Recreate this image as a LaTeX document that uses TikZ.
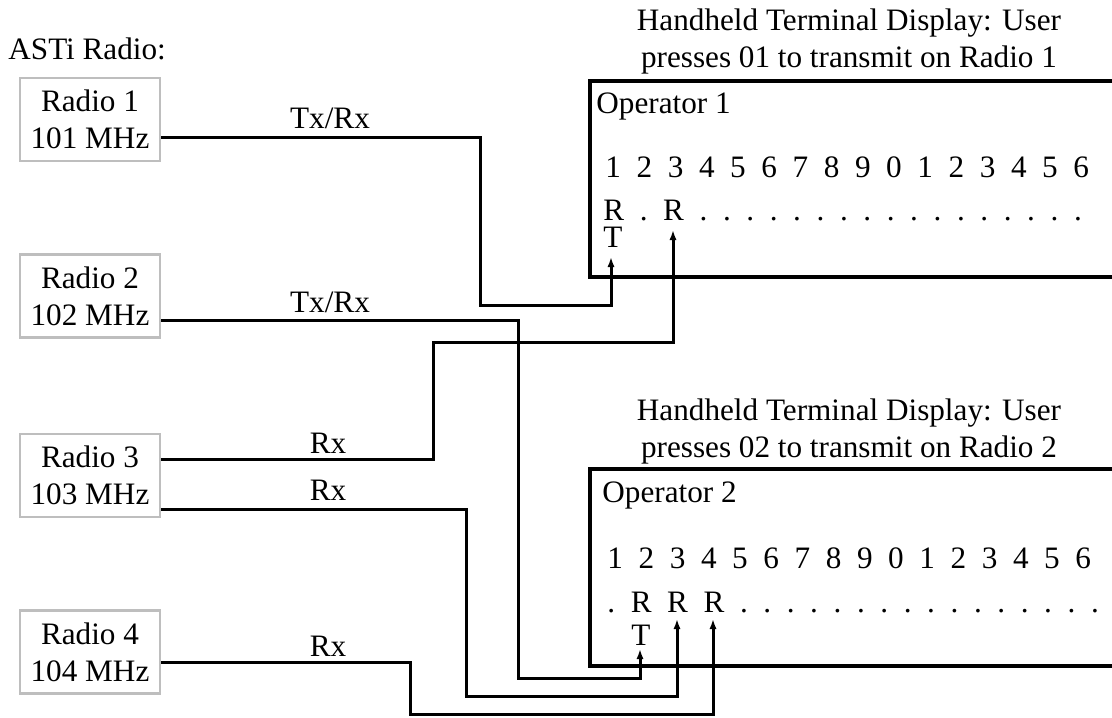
\documentclass[tikz,border=0pt]{standalone}
\usepackage{fontspec}
\setmainfont{Liberation Serif}
\usetikzlibrary{arrows.meta}
\definecolor{radiogray}{RGB}{190,190,190}
\begin{document}
\begin{tikzpicture}[x=0.5pt,y=-0.5pt,
  every node/.style={font=\fontsize{15.6}{18.5}\selectfont, inner sep=0pt},
  radio/.style={draw=radiogray, line width=1.2pt, minimum width=70pt,
                minimum height=41.5pt, align=center},
  wire/.style={line width=1.5pt, line join=miter},
  feed/.style={wire, -{Latex[length=5pt,width=3.6pt]}},
  panel/.style={line width=1.8pt},
  row/.style={anchor=base west},
  chan/.style={anchor=base}]
\useasboundingbox (0,0) rectangle (1112,717);

% radios
\node[anchor=base west] (hdr) at (8,60) {ASTi Radio:};
\node[radio] (r1) at (90,119.5) {Radio 1\\101 MHz};
\node[radio] (r2) at (90,296)   {Radio 2\\102 MHz};
\node[radio] (r3) at (90,475.5) {Radio 3\\103 MHz};
\node[radio] (r4) at (90,652)   {Radio 4\\104 MHz};

% terminal display 1
\node[align=center] (t1) at (849,41)
  {Handheld Terminal Display: User\\presses 01 to transmit on Radio 1};
\draw[panel] (1116,81) -- (590,81) -- (590,277) -- (1116,277);
\node[row] (op1) at (596,113) {Operator 1};
\node[row] (d1) at (605,177)
  {1~~2~~3~~4~~5~~6~~7~~8~~9~~0~~1~~2~~3~~4~~5~~6};
\node[row] (s1) at (603,220)
  {R~~.~~R~~.~~.~~.~~.~~.~~.~~.~~.~~.~~.~~.~~.~~.~~.~~.~~.~~.};
\node[row] (x1) at (603,247) {T};

% terminal display 2
\node[align=center] (t2) at (849,431)
  {Handheld Terminal Display: User\\presses 02 to transmit on Radio 2};
\draw[panel] (1116,469) -- (590,469) -- (590,666) -- (1116,666);
\node[row] (op2) at (602,502) {Operator 2};
\node[row] (d2) at (607,568)
  {1~~2~~3~~4~~5~~6~~7~~8~~9~~0~~1~~2~~3~~4~~5~~6};
\node[row] (s2) at (607,612)
  {.~~R~~R~~R~~.~~.~~.~~.~~.~~.~~.~~.~~.~~.~~.~~.~~.~~.~~.~~.};
\node[row] (x2) at (631,645) {T};

% channel input points
\coordinate (a1) at (611,257);
\coordinate (a2) at (673,230);
\coordinate (b1) at (640,649);
\coordinate (b2) at (677,619);
\coordinate (b3) at (713,619);

% wiring
\draw[feed] ([yshift=-8.75pt]r1.east) -- (480,137) -- (480,305) -| (a1);
\draw[feed] ([yshift=-12pt]r2.east) -- (518,320) -- (518,678) -| (b1);
\draw[feed] ([yshift=8.25pt]r3.east) -- (433,459) -- (433,342) -| (a2);
\draw[feed] ([yshift=-16.75pt]r3.east) -- (466,509) -- (466,696) -| (b2);
\draw[feed] ([yshift=-5pt]r4.east) -- (410,662) -- (410,714) -| (b3);

% wire labels
\node[chan] (l1) at (330,128) {Tx/Rx};
\node[chan] (l2) at (330,312) {Tx/Rx};
\node[chan] (l3) at (328,453) {Rx};
\node[chan] (l4) at (328,500) {Rx};
\node[chan] (l5) at (328,656) {Rx};
\end{tikzpicture}
\end{document}
